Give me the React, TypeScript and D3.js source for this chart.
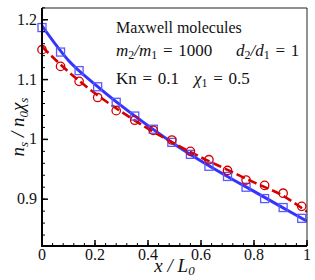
import React from "react";
import * as d3 from "d3";

// DSMC samples (markers)
const markerX = [0, 0.07, 0.14, 0.21, 0.28, 0.35, 0.42, 0.49, 0.56, 0.63, 0.7, 0.77, 0.84, 0.91, 0.98];
const squareY = [1.187, 1.146, 1.115, 1.088, 1.062, 1.039, 1.017, 0.995, 0.975, 0.955, 0.938, 0.92, 0.901, 0.886, 0.868];
const circleY = [1.15, 1.122, 1.097, 1.07, 1.048, 1.032, 1.015, 0.999, 0.98, 0.966, 0.948, 0.932, 0.923, 0.91, 0.888];

// continuous solutions (lines)
const lineX = [0, 0.1, 0.2, 0.3, 0.4, 0.5, 0.6, 0.7, 0.8, 0.9, 1.0];
const blueLineY = [1.19, 1.132, 1.092, 1.056, 1.023, 0.992, 0.964, 0.938, 0.913, 0.888, 0.863];
const redLineY = [1.155, 1.113, 1.077, 1.046, 1.018, 0.993, 0.97, 0.949, 0.928, 0.908, 0.879];

const xTicks = [0, 0.2, 0.4, 0.6, 0.8, 1];
const yTicks = [0.9, 1, 1.1, 1.2];

const W = 315;
const H = 280;
const m = { left: 42, right: 8, top: 8, bottom: 34 };

const BLUE = "#3434ff";
const RED = "#d40000";
const FONT = "Liberation Serif, serif";
const SP = "\u2004"; // spacing around "=" like TeX

export default function App() {
  const x = d3.scaleLinear().domain([0, 1]).range([m.left, W - m.right]);
  const y = d3.scaleLinear().domain([0.8217, 1.2197]).range([H - m.bottom, m.top]);

  const line = d3
    .line<[number, number]>()
    .x((d) => x(d[0]))
    .y((d) => y(d[1]))
    .curve(d3.curveMonotoneX);

  const blue = line(lineX.map((v, i) => [v, blueLineY[i]]));
  const red = line(lineX.map((v, i) => [v, redLineY[i]]));

  const xMinor = d3.range(0, 1.0001, 0.04);
  const yMinor = d3.range(0.84, 1.2201, 0.02);

  const x0 = m.left;
  const x1 = W - m.right;
  const yb = H - m.bottom;
  const yt = m.top;

  return (
    <svg
      width={W}
      height={H}
      style={{ position: "absolute", left: 0, top: 0, background: "#fff" }}
      fontFamily={FONT}
    >
      <clipPath id="plot">
        <rect x={x0} y={yt} width={x1 - x0} height={yb - yt} />
      </clipPath>

      {/* lines */}
      <g clipPath="url(#plot)" fill="none">
        <path d={blue ?? ""} stroke={BLUE} strokeWidth={3} />
        <path d={red ?? ""} stroke={RED} strokeWidth={2.6} strokeDasharray="9,4" />
      </g>

      {/* markers */}
      <g fill="none" stroke="#5a5aff" strokeWidth={1.3}>
        {markerX.map((v, i) => (
          <rect key={i} x={x(v) - 4} y={y(squareY[i]) - 4} width={8} height={8} />
        ))}
      </g>
      <g fill="none" stroke={RED} strokeWidth={1.3}>
        {markerX.map((v, i) => (
          <circle key={i} cx={x(v)} cy={y(circleY[i])} r={4.2} />
        ))}
      </g>

      {/* frame */}
      <line x1={x0} x2={x1} y1={yt} y2={yt} stroke="#222" strokeWidth={1} />
      <line x1={x1} x2={x1} y1={yt} y2={yb} stroke="#222" strokeWidth={1} />
      <line x1={x0} x2={x0} y1={yt} y2={yb + 1} stroke="#000" strokeWidth={2} />
      <line x1={x0 - 1} x2={x1} y1={yb} y2={yb} stroke="#000" strokeWidth={2} />

      {/* ticks */}
      <g stroke="#000" strokeWidth={1}>
        {xMinor.map((v, i) => (
          <line key={"xm" + i} x1={x(v)} x2={x(v)} y1={yb} y2={yb - 3} />
        ))}
        {xTicks.map((v) => (
          <line key={"xt" + v} x1={x(v)} x2={x(v)} y1={yb} y2={yb - 6} strokeWidth={1.5} />
        ))}
        {yMinor.map((v, i) => (
          <line key={"ym" + i} x1={x0} x2={x0 + 3} y1={y(v)} y2={y(v)} />
        ))}
        {yTicks.map((v) => (
          <line key={"yt" + v} x1={x0} x2={x0 + 6} y1={y(v)} y2={y(v)} strokeWidth={1.5} />
        ))}
      </g>

      {/* tick labels */}
      <g fontSize={16} fill="#111">
        {xTicks.map((v) => (
          <text key={"xl" + v} x={x(v)} y={yb + 14} textAnchor="middle">
            {d3.format("~g")(v)}
          </text>
        ))}
        {yTicks.map((v) => (
          <text key={"yl" + v} x={x0 - 5} y={y(v) + 5} textAnchor="end">
            {d3.format("~g")(v)}
          </text>
        ))}
      </g>

      {/* axis titles */}
      <text x={(x0 + x1) / 2} y={272} textAnchor="middle" fontSize={19} fontStyle="italic" fill="#111">
        x / L<tspan fontSize={13} dy={3}>0</tspan>
      </text>
      <text
        transform={`translate(24,${(yt + yb) / 2}) rotate(-90)`}
        textAnchor="middle"
        fontSize={19}
        fontStyle="italic"
        fill="#111"
      >
        n<tspan fontSize={13} dy={4}>s</tspan>
        <tspan dy={-4}> / n</tspan>
        <tspan fontSize={13} dy={4}>0</tspan>
        <tspan dy={-4}>χ</tspan>
        <tspan fontSize={13} dy={4}>s</tspan>
      </text>

      {/* annotation */}
      <g fill="#111">
        <text x={116} y={33} fontSize={16}>Maxwell molecules</text>
        <text x={116} y={56} fontSize={17}>
          <tspan fontStyle="italic">m</tspan>
          <tspan fontSize={12} dy={3}>2</tspan>
          <tspan dy={-3} fontStyle="italic">/m</tspan>
          <tspan fontSize={12} dy={3}>1</tspan>
          <tspan dy={-3}>{SP + "=" + SP + "1000"}</tspan>
        </text>
        <text x={236} y={56} fontSize={17}>
          <tspan fontStyle="italic">d</tspan>
          <tspan fontSize={12} dy={3}>2</tspan>
          <tspan dy={-3} fontStyle="italic">/d</tspan>
          <tspan fontSize={12} dy={3}>1</tspan>
          <tspan dy={-3}>{SP + "=" + SP + "1"}</tspan>
        </text>
        <text x={116} y={84} fontSize={17}>{"Kn" + SP + "=" + SP + "0.1"}</text>
        <text x={194} y={84} fontSize={17}>
          <tspan fontStyle="italic">χ</tspan>
          <tspan fontSize={12} dy={3}>1</tspan>
          <tspan dy={-3}>{SP + "=" + SP + "0.5"}</tspan>
        </text>
      </g>
    </svg>
  );
}
